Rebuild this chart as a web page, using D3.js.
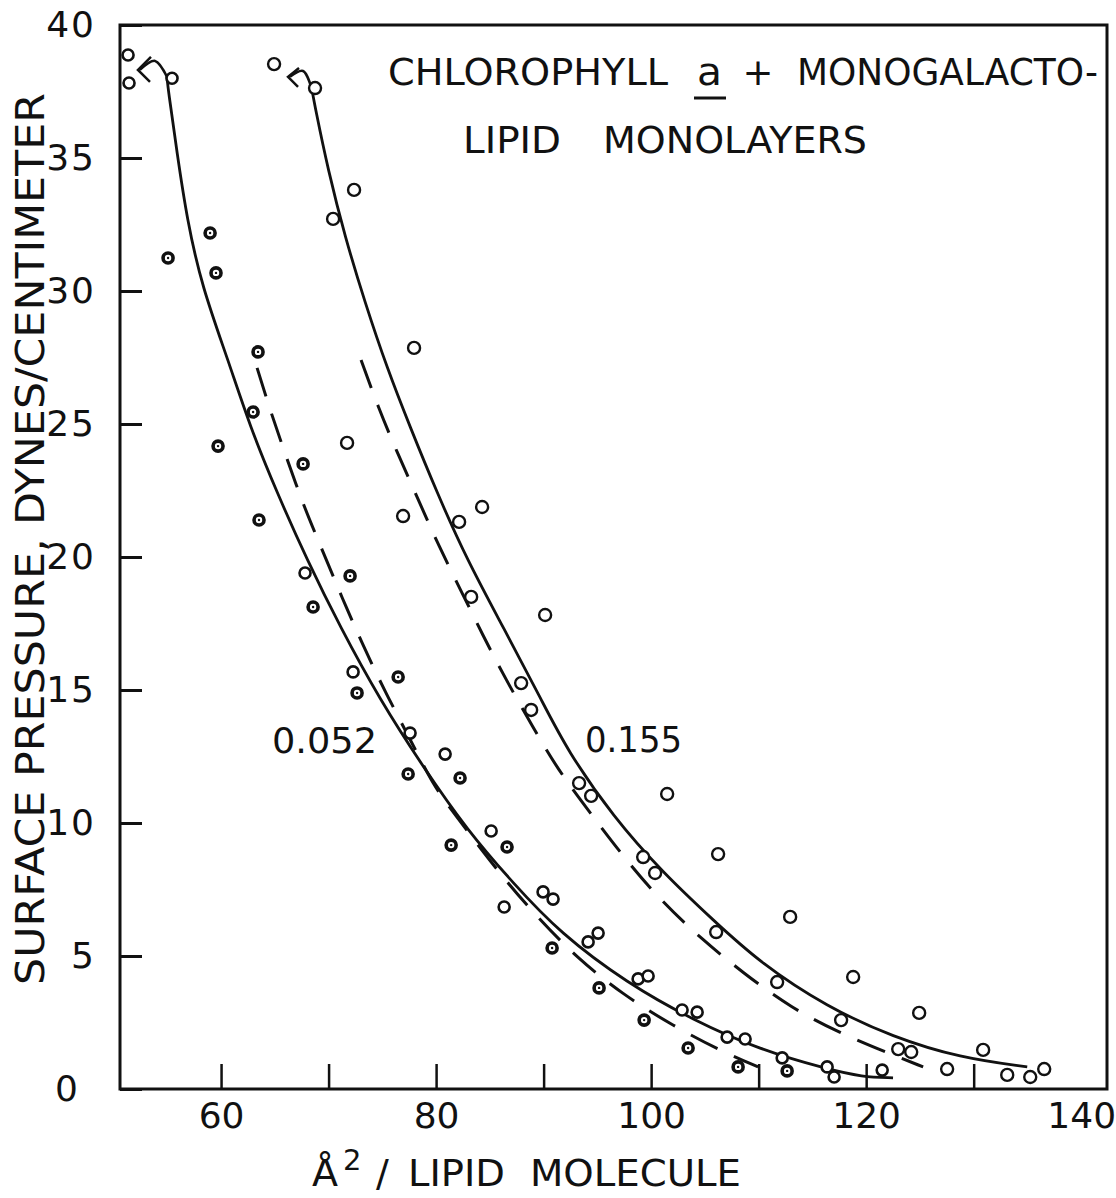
<!DOCTYPE html>
<html>
<head>
<meta charset="utf-8">
<script src="https://cdnjs.cloudflare.com/ajax/libs/d3/7.8.5/d3.min.js"></script>
<style>
  body { margin: 0; background: #fff; }
  text { font-family: "DejaVu Sans", "Liberation Sans", sans-serif; fill: #111; }
</style>
</head>
<body>
<div id="chart"></div>
<script>
// axis ticks
var xTicks = [60, 70, 80, 90, 100, 110, 120, 130];
var xLabels = [60, 80, 100, 120, 140];
var yTicks = [0, 5, 10, 15, 20, 25, 30, 35, 40];

// 0.052 film, dotted symbols
var pts052dot = [[55.07,31.24],[58.98,32.18],[59.53,30.68],[59.72,24.17],[63.44,27.71],[62.98,25.45],
  [63.53,21.39],[67.63,23.50],[72.0,19.29],[68.56,18.12],[76.47,15.49],[72.65,14.89],[77.40,11.84],
  [82.23,11.69],[81.40,9.17],[86.60,9.10],[90.79,5.30],[95.16,3.80],[99.35,2.59],[103.44,1.54],
  [108.09,0.83],[112.65,0.68]];

// 0.052 film, open symbols
var pts052open = [[51.35,38.87],[51.44,37.82],[55.44,38.0],[67.81,19.40],[72.28,15.68],[77.58,13.38],
  [80.84,12.59],[85.12,9.70],[86.33,6.84],[89.95,7.41],[90.88,7.14],[94.14,5.53],[95.07,5.86],
  [98.79,4.14],[99.72,4.25],[102.88,2.97],[104.28,2.89],[107.07,1.95],[108.74,1.88],[112.19,1.17],
  [116.37,0.83],[117.02,0.45],[121.49,0.71]];

// 0.155 film
var pts155 = [[64.93,38.53],[68.74,37.63],[70.42,32.71],[72.37,33.80],[77.95,27.86],[71.72,24.29],
  [76.93,21.54],[82.14,21.32],[84.28,21.88],[83.26,18.50],[90.14,17.82],[87.91,15.26],[88.84,14.25],
  [93.30,11.50],[94.42,11.02],[101.49,11.09],[99.26,8.72],[100.37,8.12],[106.23,8.83],[106.05,5.90],
  [112.93,6.47],[111.72,4.02],[118.79,4.21],[117.67,2.59],[124.93,2.86],[122.98,1.50],[124.19,1.39],
  [127.53,0.75],[130.88,1.47],[133.12,0.53],[135.26,0.45],[136.56,0.75]];

// drawn curves
var fit052 = [[54.97,38.05],[55.07,37.60],[55.91,35.19],[56.84,32.67],[58.23,30.15],
  [60.65,27.41],[62.70,24.89],[65.21,22.41],[68.0,19.89],[71.07,17.37],[74.79,14.62],[78.79,12.11],
  [82.88,9.74],[87.16,7.74],[91.53,5.86],[97.77,3.98],[103.91,2.59],[110.14,1.47],[116.37,0.75],
  [119.63,0.45],[122.5,0.42]];
var dash052 = [[63.35,27.11],[64.65,25.41],[66.14,23.68],[67.72,21.88],[69.49,20.19],[71.26,18.46],
  [73.02,16.84],[75.26,14.92],[77.77,13.01],[79.72,11.43],[81.58,10.41],[86.14,7.97],[89.49,6.43],
  [93.12,4.92],[97.30,3.57],[102.05,2.37],[106.70,1.39],[109.95,0.83]];
var fit155 = [[68.46,37.56],[68.74,36.92],[69.95,34.55],[71.53,32.03],[73.40,29.55],[75.44,27.10],
  [77.58,24.89],[80.09,22.41],[82.88,19.89],[86.23,17.37],[89.95,14.51],[92.19,12.74],[96.47,10.23],
  [101.12,8.12],[105.77,6.35],[110.14,4.74],[116.37,3.08],[122.51,1.95],[128.74,1.17],[134.98,0.83]];
var dash155 = [[73.02,27.41],[74.60,25.64],[76.28,24.02],[78.23,22.26],[80.28,20.38],[82.42,18.65],
  [84.28,17.11],[86.51,15.38],[88.93,13.65],[91.35,11.99],[94.33,10.38],[97.58,8.65],[100.84,7.11],
  [104.56,5.68],[108.56,4.36],[113.02,3.05],[117.49,2.11],[122.23,1.32],[125.30,0.83]];

// hooked arrows at the top of each curve
var arrow052 = [[52.45,38.31],[53.86,38.65],[54.97,38.05]];
var head052 = [[53.48,38.80],[52.27,38.31],[53.39,37.86]];
var arrow155 = [[66.41,38.05],[67.62,38.27],[68.46,37.56]];
var head155 = [[67.25,38.38],[66.23,38.05],[67.16,37.67]];

var margin = { top: 25, right: 9, bottom: 109, left: 120 },
  width = 1116 - margin.left - margin.right,
  height = 1198 - margin.top - margin.bottom;

var svg0 = d3.select("#chart")
  .append("svg")
  .attr("width", 1116)
  .attr("height", 1198)
  .style("background", "#fff");

var svg = svg0.append("g")
  .attr("transform", "translate(" + margin.left + "," + margin.top + ")");

var x = d3.scaleLinear().domain([50.6, 142.4]).range([0, width]);
var y = d3.scaleLinear().domain([0, 40]).range([height, 0]);

var ink = "#111";

// frame
svg.append("rect")
  .attr("width", width).attr("height", height)
  .attr("fill", "none").attr("stroke", ink).attr("stroke-width", 3);

// inward tick marks
var yt = svg.append("g").call(d3.axisLeft(y).tickValues(yTicks).tickSize(-22).tickFormat(""));
yt.select(".domain").remove();
yt.selectAll("line").attr("stroke", ink).attr("stroke-width", 3);

var xt = svg.append("g").attr("transform", "translate(0," + height + ")")
  .call(d3.axisBottom(x).tickValues(xTicks).tickSize(-25).tickFormat(""));
xt.select(".domain").remove();
xt.selectAll("line").attr("stroke", ink).attr("stroke-width", 2.5);

// tick labels
var yl = svg.append("g")
  .call(d3.axisLeft(y).tickValues(yTicks).tickSize(0).tickPadding(24));
yl.select(".domain").remove();
yl.selectAll("text")
  .attr("font-size", 36).attr("font-family", "DejaVu Sans").attr("fill", ink)
  .style("letter-spacing", "2px");
yl.selectAll("text").filter(function (d) { return d === 0; }).attr("dx", -16);

var xl = svg.append("g").attr("transform", "translate(0," + height + ")")
  .call(d3.axisBottom(x).tickValues(xLabels).tickSize(0).tickPadding(13));
xl.select(".domain").remove();
xl.selectAll("text")
  .attr("font-size", 36).attr("font-family", "DejaVu Sans").attr("fill", ink);

// curves
var smooth = d3.line()
  .x(function (d) { return x(d[0]) })
  .y(function (d) { return y(d[1]) })
  .curve(d3.curveBasis);

var straight = d3.line()
  .x(function (d) { return x(d[0]) })
  .y(function (d) { return y(d[1]) });

svg.append("path").datum(fit052).attr("d", smooth)
  .attr("fill", "none").attr("stroke", ink).attr("stroke-width", 2.8);
svg.append("path").datum(fit155).attr("d", smooth)
  .attr("fill", "none").attr("stroke", ink).attr("stroke-width", 2.8);
svg.append("path").datum(dash052).attr("d", smooth)
  .attr("fill", "none").attr("stroke", ink).attr("stroke-width", 3)
  .attr("stroke-dasharray", "30,18");
svg.append("path").datum(dash155).attr("d", smooth)
  .attr("fill", "none").attr("stroke", ink).attr("stroke-width", 3)
  .attr("stroke-dasharray", "30,18");

// arrows
[arrow052, arrow155].forEach(function (a) {
  svg.append("path").datum(a).attr("d", d3.line()
      .x(function (d) { return x(d[0]) })
      .y(function (d) { return y(d[1]) })
      .curve(d3.curveCatmullRom))
    .attr("fill", "none").attr("stroke", ink).attr("stroke-width", 2.5);
});
[head052, head155].forEach(function (a) {
  svg.append("path").datum(a).attr("d", straight)
    .attr("fill", "none").attr("stroke", ink).attr("stroke-width", 2.5);
});

// data points
svg.append("g").selectAll("circle").data(pts155).enter().append("circle")
  .attr("cx", function (d) { return x(d[0]) })
  .attr("cy", function (d) { return y(d[1]) })
  .attr("r", 6).attr("fill", "#fff").attr("stroke", ink).attr("stroke-width", 2.4);

svg.append("g").selectAll("circle").data(pts052open).enter().append("circle")
  .attr("cx", function (d) { return x(d[0]) })
  .attr("cy", function (d) { return y(d[1]) })
  .attr("r", 5.5).attr("fill", "#fff").attr("stroke", ink).attr("stroke-width", 2.6);

var dots = svg.append("g").selectAll("g").data(pts052dot).enter().append("g")
  .attr("transform", function (d) { return "translate(" + x(d[0]) + "," + y(d[1]) + ")" });
dots.append("circle").attr("r", 5).attr("fill", "#fff").attr("stroke", ink).attr("stroke-width", 3.6);
dots.append("circle").attr("r", 1.2).attr("fill", ink);

// curve labels
svg0.append("text").attr("x", 272).attr("y", 753).attr("font-size", 36)
  .attr("textLength", 105).attr("lengthAdjust", "spacingAndGlyphs").text("0.052");
svg0.append("text").attr("x", 585).attr("y", 752).attr("font-size", 36)
  .attr("textLength", 97).attr("lengthAdjust", "spacingAndGlyphs").text("0.155");

// title
var title = svg0.append("g").attr("font-size", 37);
title.append("text").attr("x", 388).attr("y", 85)
  .attr("textLength", 280).attr("lengthAdjust", "spacingAndGlyphs").text("CHLOROPHYLL");
title.append("text").attr("x", 697).attr("y", 85)
  .attr("textLength", 25).attr("lengthAdjust", "spacingAndGlyphs").text("a");
title.append("line").attr("x1", 694).attr("x2", 726).attr("y1", 98).attr("y2", 98)
  .attr("stroke", ink).attr("stroke-width", 3);
title.append("text").attr("x", 758).attr("y", 85).attr("text-anchor", "middle").text("+");
title.append("text").attr("x", 797).attr("y", 85)
  .attr("textLength", 301).attr("lengthAdjust", "spacingAndGlyphs").text("MONOGALACTO-");
title.append("text").attr("x", 463).attr("y", 153)
  .attr("textLength", 98).attr("lengthAdjust", "spacingAndGlyphs").text("LIPID");
title.append("text").attr("x", 603).attr("y", 153)
  .attr("textLength", 264).attr("lengthAdjust", "spacingAndGlyphs").text("MONOLAYERS");

// y axis title
svg0.append("text")
  .attr("transform", "translate(44,539) rotate(-90)")
  .attr("text-anchor", "middle").attr("font-size", 39)
  .attr("textLength", 892).attr("lengthAdjust", "spacingAndGlyphs")
  .text("SURFACE PRESSURE, DYNES/CENTIMETER");

// x axis title
var xt2 = svg0.append("g").attr("font-size", 38);
xt2.append("text").attr("x", 312).attr("y", 1186).text("Å");
xt2.append("text").attr("x", 343).attr("y", 1170).attr("font-size", 29).text("2");
xt2.append("text").attr("x", 376).attr("y", 1186).text("/");
xt2.append("text").attr("x", 408).attr("y", 1186)
  .attr("textLength", 97).attr("lengthAdjust", "spacingAndGlyphs").text("LIPID");
xt2.append("text").attr("x", 530).attr("y", 1186)
  .attr("textLength", 211).attr("lengthAdjust", "spacingAndGlyphs").text("MOLECULE");
</script>
</body>
</html>
